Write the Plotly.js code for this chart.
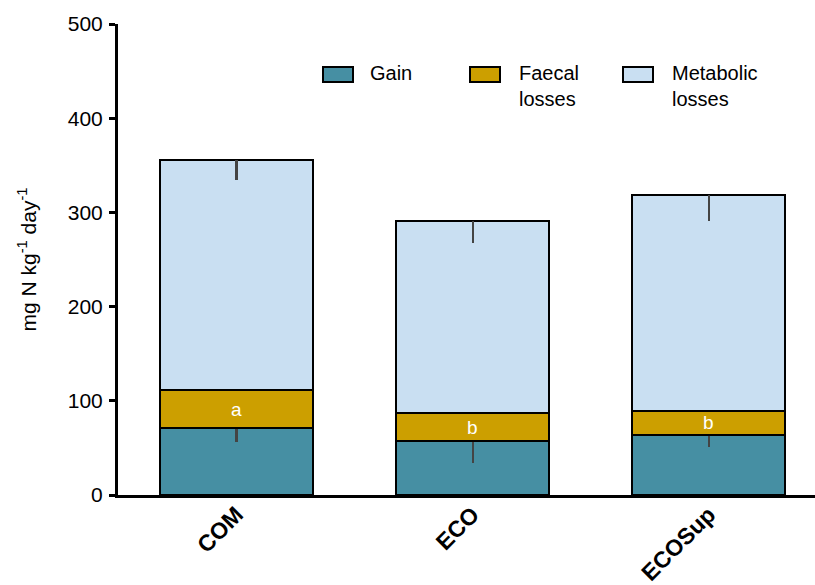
<!DOCTYPE html>
<html>
<head>
<meta charset="utf-8">
<script src="https://cdn.plot.ly/plotly-3.0.1.min.js"></script>
<style>
  html, body { margin: 0; padding: 0; background: #fff; }
  #chart { width: 815px; height: 585px; }
</style>
</head>
<body>
<div id="chart"></div>
<script>
// Nitrogen balance per diet (mg N kg-1 day-1)
const categories = ['COM', 'ECO', 'ECOSup'];
const gain = [71, 57, 64];
const faecal = [40, 30, 25];
const metabolic = [245, 204, 230];
const gainErr = [15, 23, 13];
const metabolicErr = [22, 24, 28];
const letters = ['a', 'b', 'b'];
const seriesNames = ['Gain', 'Faecal<br>losses', 'Metabolic<br>losses'];
const seriesColors = ['#468FA3', '#CC9F00', '#C9DFF2'];
const yTicks = [0, 100, 200, 300, 400, 500];

const FONT = 'Liberation Sans, Arial, sans-serif';
const W = 815, H = 585;
const M = { l: 118, r: 0, t: 24, b: 90 };
const plotW = W - M.l - M.r, plotH = H - M.t - M.b;
const px2x = p => (p - M.l) / plotW;
const px2y = p => (H - M.b - p) / plotH;

const outline = { color: '#000', width: 2 };
const errStyle = (minus, color) => ({
  type: 'data', symmetric: false,
  array: minus.map(() => 0), arrayminus: minus,
  color: color, thickness: 2.2, width: 0, visible: true
});

const traces = [
  { type: 'bar', x: categories, y: gain, name: seriesNames[0],
    marker: { color: seriesColors[0], line: outline },
    error_y: errStyle(gainErr, '#444') },
  { type: 'bar', x: categories, y: faecal, name: seriesNames[1],
    marker: { color: seriesColors[1], line: outline } },
  { type: 'bar', x: categories, y: metabolic, name: seriesNames[2],
    marker: { color: seriesColors[2], line: outline },
    error_y: errStyle(metabolicErr, '#444') }
];

// significance letters centred in the faecal segment
const annotations = categories.map((c, i) => ({
  x: c, y: gain[i] + faecal[i] / 2, xref: 'x', yref: 'y',
  text: letters[i], showarrow: false,
  font: { family: FONT, size: 19, color: '#fff' }
}));

// legend: swatches and labels
const swLeft = [323, 470, 623];
const txtLeft = [368, 517, 670];
const shapes = [];
seriesNames.forEach((n, i) => {
  shapes.push({
    type: 'rect', xref: 'paper', yref: 'paper',
    x0: px2x(swLeft[i]), x1: px2x(swLeft[i] + 30),
    y0: px2y(82), y1: px2y(67),
    fillcolor: seriesColors[i], line: { color: '#000', width: 2 }
  });
  annotations.push({
    xref: 'paper', yref: 'paper', x: px2x(txtLeft[i]), y: px2y(60),
    xanchor: 'left', yanchor: 'top', align: 'left',
    text: n, showarrow: false,
    font: { family: FONT, size: 20, color: '#000' }
  });
});

const layout = {
  width: W, height: H,
  margin: M,
  barmode: 'stack',
  bargap: 0.35,
  showlegend: false,
  paper_bgcolor: '#fff', plot_bgcolor: '#fff',
  font: { family: FONT, color: '#000' },
  xaxis: {
    type: 'category', range: [-0.502, 2.45],
    showline: true, linecolor: '#000', linewidth: 3,
    ticks: '', tickangle: -45, showgrid: false, zeroline: false,
    ticklabelstandoff: -6,
    tickfont: { family: FONT, size: 23, color: '#000', weight: 'bold' },
    automargin: false
  },
  yaxis: {
    range: [0, 500], tickvals: yTicks, ticktext: yTicks.map(String),
    showline: true, linecolor: '#000', linewidth: 3,
    ticks: 'outside', ticklen: 6, tickwidth: 3, tickcolor: '#000',
    ticklabelstandoff: 2,
    showgrid: false, zeroline: false,
    tickfont: { family: FONT, size: 21, color: '#000' },
    title: { text: 'mg N kg<sup>-1</sup> day<sup>-1</sup>',
             font: { family: FONT, size: 21, color: '#000' }, standoff: 26 },
    automargin: false
  },
  shapes: shapes,
  annotations: annotations
};

Plotly.newPlot('chart', traces, layout, { displayModeBar: false, staticPlot: true });
</script>
</body>
</html>
